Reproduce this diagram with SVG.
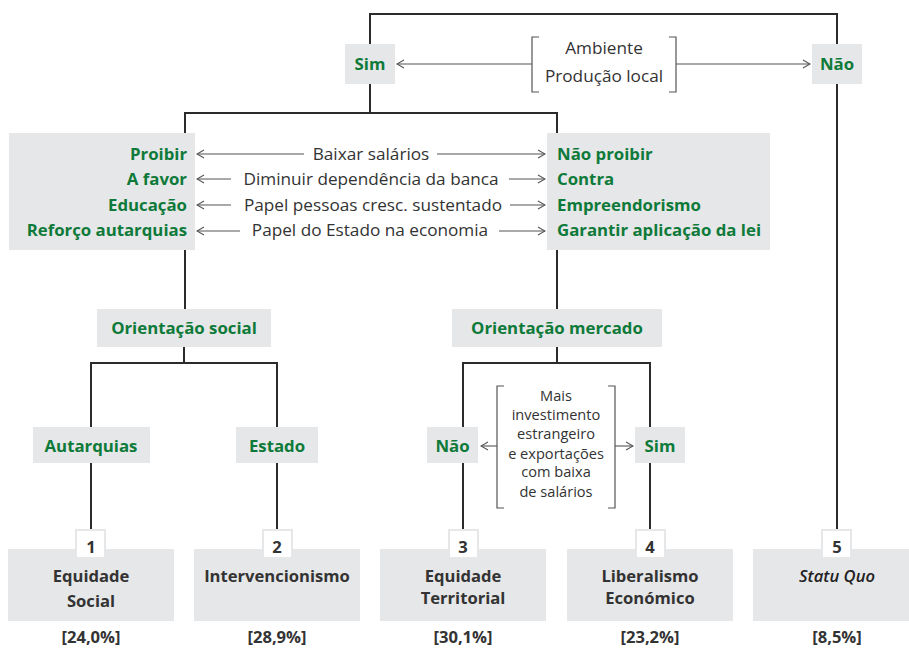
<svg xmlns="http://www.w3.org/2000/svg" width="909" height="650" viewBox="0 0 909 650">
<style>
  .box{fill:#e6e7e8}
  .g{font-family:"Open Sans","Noto Sans",sans-serif;font-weight:bold;fill:#0e7a3a;font-size:16.8px}
  .t{font-family:"Open Sans","Noto Sans",sans-serif;fill:#333;font-size:17.2px}
  .b{font-family:"Open Sans","Noto Sans",sans-serif;font-weight:bold;fill:#333;font-size:16.6px}
  .s{font-family:"Open Sans","Noto Sans",sans-serif;fill:#333;font-size:14.6px}
  .ln{fill:none;stroke:#2b2b2b;stroke-width:2}
  .ar{fill:none;stroke:#555;stroke-width:1.1}
  .br{fill:none;stroke:#555;stroke-width:1.2}
  .num{fill:#fff;stroke:#e6e7e8;stroke-width:2}
</style>
<defs>
  <marker id="ah" viewBox="0 0 10 10" refX="9" refY="5" markerWidth="10" markerHeight="10" markerUnits="userSpaceOnUse" orient="auto">
    <path d="M2,1 L9,5 L2,9" fill="none" stroke="#555" stroke-width="1.1"/>
  </marker>
</defs>

<g id="connectors">
  <path class="ln" d="M370,44 V14 H837 V44"/>
  <path class="ln" d="M370,84 V113"/>
  <path class="ln" d="M185,133 V113 H557 V133"/>
  <path class="ln" d="M837,84 V530"/>
  <path class="ln" d="M185,250 V309"/>
  <path class="ln" d="M557,250 V309"/>
  <path class="ln" d="M91,427 V363 H277 V427"/>
  <path class="ln" d="M184,347 V363"/>
  <path class="ln" d="M463,427 V363 H650 V427"/>
  <path class="ln" d="M557,347 V363"/>
  <path class="ln" d="M91,463 V530"/>
  <path class="ln" d="M277,463 V530"/>
  <path class="ln" d="M463,463 V530"/>
  <path class="ln" d="M650,463 V530"/>
  <line class="ar" x1="532" y1="64" x2="397" y2="64" marker-end="url(#ah)"/>
  <line class="ar" x1="676" y1="64" x2="810" y2="64" marker-end="url(#ah)"/>
  <line class="ar" x1="304" y1="154" x2="197" y2="154" marker-end="url(#ah)"/>
  <line class="ar" x1="437" y1="154" x2="545" y2="154" marker-end="url(#ah)"/>
  <line class="ar" x1="231" y1="179" x2="197" y2="179" marker-end="url(#ah)"/>
  <line class="ar" x1="509" y1="179" x2="545" y2="179" marker-end="url(#ah)"/>
  <line class="ar" x1="231" y1="205" x2="197" y2="205" marker-end="url(#ah)"/>
  <line class="ar" x1="510" y1="205" x2="545" y2="205" marker-end="url(#ah)"/>
  <line class="ar" x1="240" y1="231" x2="197" y2="231" marker-end="url(#ah)"/>
  <line class="ar" x1="499" y1="231" x2="545" y2="231" marker-end="url(#ah)"/>
  <line class="ar" x1="497" y1="446" x2="481" y2="446" marker-end="url(#ah)"/>
  <line class="ar" x1="615" y1="446" x2="633" y2="446" marker-end="url(#ah)"/>
</g>

<g id="top-criterion">
  <path class="br" d="M539,37 H532 V92 H539"/>
  <path class="br" d="M669,37 H676 V92 H669"/>
  <text class="t" x="604" y="54" text-anchor="middle">Ambiente</text>
  <text class="t" x="604" y="82" text-anchor="middle">Produção local</text>
</g>

<g id="sim-top">
  <rect class="box" x="345" y="44" width="50" height="40"/>
  <text class="g" x="370" y="70" text-anchor="middle">Sim</text>
</g>
<g id="nao-top">
  <rect class="box" x="812" y="44" width="50" height="40"/>
  <text class="g" x="837" y="70" text-anchor="middle">Não</text>
</g>

<g id="left-positions">
  <rect class="box" x="9" y="133" width="186" height="117"/>
  <text class="g" x="187" y="160" text-anchor="end">Proibir</text>
  <text class="g" x="187" y="185" text-anchor="end">A favor</text>
  <text class="g" x="187" y="211" text-anchor="end">Educação</text>
  <text class="g" x="187" y="236" text-anchor="end">Reforço autarquias</text>
</g>

<g id="criteria">
  <text class="t" x="371" y="160" text-anchor="middle">Baixar salários</text>
  <text class="t" x="371" y="185" text-anchor="middle">Diminuir dependência da banca</text>
  <text class="t" x="373" y="211" text-anchor="middle">Papel pessoas cresc. sustentado</text>
  <text class="t" x="370" y="236" text-anchor="middle">Papel do Estado na economia</text>
</g>

<g id="right-positions">
  <rect class="box" x="547" y="133" width="223" height="117"/>
  <text class="g" x="557" y="160">Não proibir</text>
  <text class="g" x="557" y="185">Contra</text>
  <text class="g" x="557" y="211">Empreendorismo</text>
  <text class="g" x="557" y="236">Garantir aplicação da lei</text>
</g>

<g id="orientacao-social">
  <rect class="box" x="97" y="309" width="174" height="38"/>
  <text class="g" x="184" y="334" text-anchor="middle">Orientação social</text>
</g>
<g id="orientacao-mercado">
  <rect class="box" x="452" y="309" width="210" height="38"/>
  <text class="g" x="557" y="334" text-anchor="middle">Orientação mercado</text>
</g>

<g id="autarquias">
  <rect class="box" x="33" y="427" width="117" height="36"/>
  <text class="g" x="91" y="452" text-anchor="middle">Autarquias</text>
</g>
<g id="estado">
  <rect class="box" x="236" y="427" width="82" height="36"/>
  <text class="g" x="277" y="452" text-anchor="middle">Estado</text>
</g>
<g id="nao-mid">
  <rect class="box" x="427" y="427" width="51" height="36"/>
  <text class="g" x="452.5" y="452" text-anchor="middle">Não</text>
</g>
<g id="sim-mid">
  <rect class="box" x="635" y="427" width="50" height="36"/>
  <text class="g" x="660" y="452" text-anchor="middle">Sim</text>
</g>

<g id="mid-criterion">
  <path class="br" d="M504,386 H497 V508 H504"/>
  <path class="br" d="M608,386 H615 V508 H608"/>
  <text class="s" x="556" y="401" text-anchor="middle">Mais</text>
  <text class="s" x="556" y="420" text-anchor="middle">investimento</text>
  <text class="s" x="556" y="438.5" text-anchor="middle">estrangeiro</text>
  <text class="s" x="556" y="458.5" text-anchor="middle">e exportações</text>
  <text class="s" x="556" y="477" text-anchor="middle">com baixa</text>
  <text class="s" x="556" y="497" text-anchor="middle">de salários</text>
</g>

<g id="cenario-1">
  <rect class="box" x="8" y="549" width="166" height="72"/>
  <rect class="num" x="76" y="530" width="29" height="28"/>
  <text class="b" x="91" y="553" text-anchor="middle" font-size="14.5">1</text>
  <text class="b" x="91" y="582" text-anchor="middle">Equidade</text>
  <text class="b" x="91" y="607" text-anchor="middle">Social</text>
  <text class="b" x="91" y="643" text-anchor="middle">[24,0%]</text>
</g>
<g id="cenario-2">
  <rect class="box" x="194" y="549" width="166" height="72"/>
  <rect class="num" x="263" y="530" width="29" height="28"/>
  <text class="b" x="277" y="553" text-anchor="middle" font-size="14.5">2</text>
  <text class="b" x="277" y="582" text-anchor="middle">Intervencionismo</text>
  <text class="b" x="277" y="643" text-anchor="middle">[28,9%]</text>
</g>
<g id="cenario-3">
  <rect class="box" x="380" y="549" width="166" height="72"/>
  <rect class="num" x="449" y="530" width="29" height="28"/>
  <text class="b" x="463" y="553" text-anchor="middle" font-size="14.5">3</text>
  <text class="b" x="463" y="582" text-anchor="middle">Equidade</text>
  <text class="b" x="463" y="604" text-anchor="middle">Territorial</text>
  <text class="b" x="463" y="643" text-anchor="middle">[30,1%]</text>
</g>
<g id="cenario-4">
  <rect class="box" x="567" y="549" width="166" height="72"/>
  <rect class="num" x="636" y="530" width="29" height="28"/>
  <text class="b" x="650" y="553" text-anchor="middle" font-size="14.5">4</text>
  <text class="b" x="650" y="582" text-anchor="middle">Liberalismo</text>
  <text class="b" x="650" y="604" text-anchor="middle">Económico</text>
  <text class="b" x="650" y="643" text-anchor="middle">[23,2%]</text>
</g>
<g id="cenario-5">
  <rect class="box" x="753" y="549" width="156" height="72"/>
  <rect class="num" x="822" y="530" width="29" height="28"/>
  <text class="b" x="837" y="553" text-anchor="middle" font-size="14.5">5</text>
  <text x="837" y="582" text-anchor="middle" font-family="Open Sans, Noto Sans, sans-serif" font-style="italic" font-weight="600" font-size="16.6" fill="#222">Statu Quo</text>
  <text class="b" x="837" y="643" text-anchor="middle">[8,5%]</text>
</g>
</svg>
